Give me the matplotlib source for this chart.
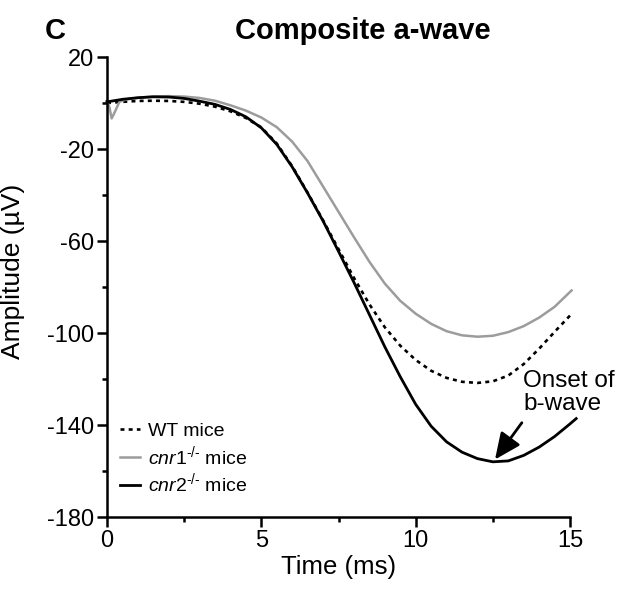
import matplotlib
matplotlib.use("Agg")
import matplotlib.pyplot as plt

plt.rcParams['font.family'] = ['Liberation Sans', 'DejaVu Sans']
plt.rcParams['mathtext.fontset'] = 'custom'
plt.rcParams['mathtext.rm'] = 'Liberation Sans'
plt.rcParams['mathtext.it'] = 'Liberation Sans:italic'
plt.rcParams['axes.unicode_minus'] = False

# time (ms) and amplitude (uV)
t_wt = [0, 0.5, 1.0, 1.5, 2.0, 2.5, 3.0, 3.5, 4.0, 4.5, 5.0, 5.5, 6.0, 6.5, 7.0,
        7.5, 8.0, 8.5, 9.0, 9.5, 10.0, 10.5, 11.0, 11.5, 12.0, 12.5, 13.0, 13.5,
        14.0, 14.5, 15.05]
wt = [0, 0.5, 0.9, 1.0, 0.9, 0.5, -0.3, -1.6, -3.6, -6.5, -10.6, -17.6, -27.5,
      -39, -51, -63.5, -76, -87.5, -97.5, -105.5, -111.7, -116.4, -119.5,
      -121.2, -121.7, -121, -118.5, -113.5, -106.8, -99.5, -91.7]

t_cnr1 = [0, 0.08, 0.15, 0.25, 0.4, 0.6, 1.0, 1.5, 2.0, 2.5, 3.0, 3.5, 4.0, 4.5,
          5.0, 5.5, 6.0, 6.5, 7.0, 7.5, 8.0, 8.5, 9.0, 9.5, 10.0, 10.5, 11.0,
          11.5, 12.0, 12.5, 13.0, 13.5, 14.0, 14.5, 15.05]
cnr1 = [1, -2, -6.7, -4, 0.5, 1.5, 2.3, 2.8, 3.0, 2.8, 2.2, 1.0, -1.0, -3.3,
        -6.3, -10.5, -16.8, -25.3, -36.3, -47.3, -58.3, -69, -78.5, -86, -91.6,
        -96, -99.2, -101, -101.6, -101.2, -99.6, -97, -93.3, -88.6, -81.5]

t_cnr2 = [0, 0.5, 1.0, 1.5, 2.0, 2.5, 3.0, 3.5, 4.0, 4.5, 5.0, 5.5, 6.0, 6.5,
          7.0, 7.5, 8.0, 8.5, 9.0, 9.5, 10.0, 10.5, 11.0, 11.5, 12.0, 12.5, 13.0,
          13.5, 14.0, 14.5, 15.0, 15.2]
cnr2 = [0.5, 1.6, 2.3, 2.7, 2.6, 2.0, 0.8, -0.6, -2.8, -6.0, -10.8, -18, -27.8,
        -39.2, -51.3, -64.5, -78, -92, -106, -119, -131, -140.5, -147.3, -151.8,
        -154.6, -156, -155.6, -153.2, -149.6, -145, -139.5, -137.2]

fig = plt.figure(figsize=(6.21, 5.89), dpi=100)
ax = fig.add_axes([0.1723, 0.1222, 0.7456, 0.781])

ax.plot(t_wt, wt, color='black', lw=1.9, ls=(0, (1.5, 1.6)), clip_on=False,
        label='WT mice')
ax.plot(t_cnr1, cnr1, color='#9c9c9c', lw=1.8, clip_on=False,
        label='$\\mathit{cnr1}^{\u2010/\u2010}$ mice')
ax.plot(t_cnr2, cnr2, color='black', lw=2.0, clip_on=False,
        label='$\\mathit{cnr2}^{\u2010/\u2010}$ mice')

ax.set_xlim(0, 15)
ax.set_ylim(-180, 20)
ax.set_xticks([0, 5, 10, 15])
ax.set_xticks([2.5, 7.5, 12.5], minor=True)
ax.set_yticks([20, -20, -60, -100, -140, -180])
ax.set_yticks([0, -40, -80, -120, -160], minor=True)

for s in ['top', 'right']:
    ax.spines[s].set_visible(False)
for s in ['left', 'bottom']:
    ax.spines[s].set_linewidth(1.8)
ax.tick_params(which='major', length=7, width=1.8, labelsize=17, pad=2)
ax.tick_params(which='minor', length=3.5, width=1.8)

ax.set_xlabel('Time (ms)', fontsize=18.5)
ax.set_ylabel('Amplitude (µV)', fontsize=19)
ax.xaxis.set_label_coords(0.5, -0.083)
ax.yaxis.set_label_coords(-0.178, 0.534)

leg = ax.legend(loc='lower left', bbox_to_anchor=(0.028, 0.047), frameon=False,
                fontsize=14, handlelength=1.05, handletextpad=0.4,
                labelspacing=0.2, borderpad=0, borderaxespad=0)

ax.annotate('', xy=(12.57, -155), xytext=(13.44, -139),
            arrowprops=dict(arrowstyle='-|>,head_length=0.8,head_width=0.36',
                            color='black', lw=2, mutation_scale=20,
                            shrinkA=0, shrinkB=0))
ax.text(13.48, -116, 'Onset of\nb-wave', fontsize=17.5, ha='left', va='top',
        linespacing=1.05, clip_on=False)

fig.text(363 / 621, 1 - 31 / 589, 'Composite a-wave', fontsize=21,
         fontweight='bold', ha='center', va='center')
fig.text(55 / 621, 1 - 31 / 589, 'C', fontsize=21, fontweight='bold',
         ha='center', va='center')

fig.savefig('out.png', dpi=100)
